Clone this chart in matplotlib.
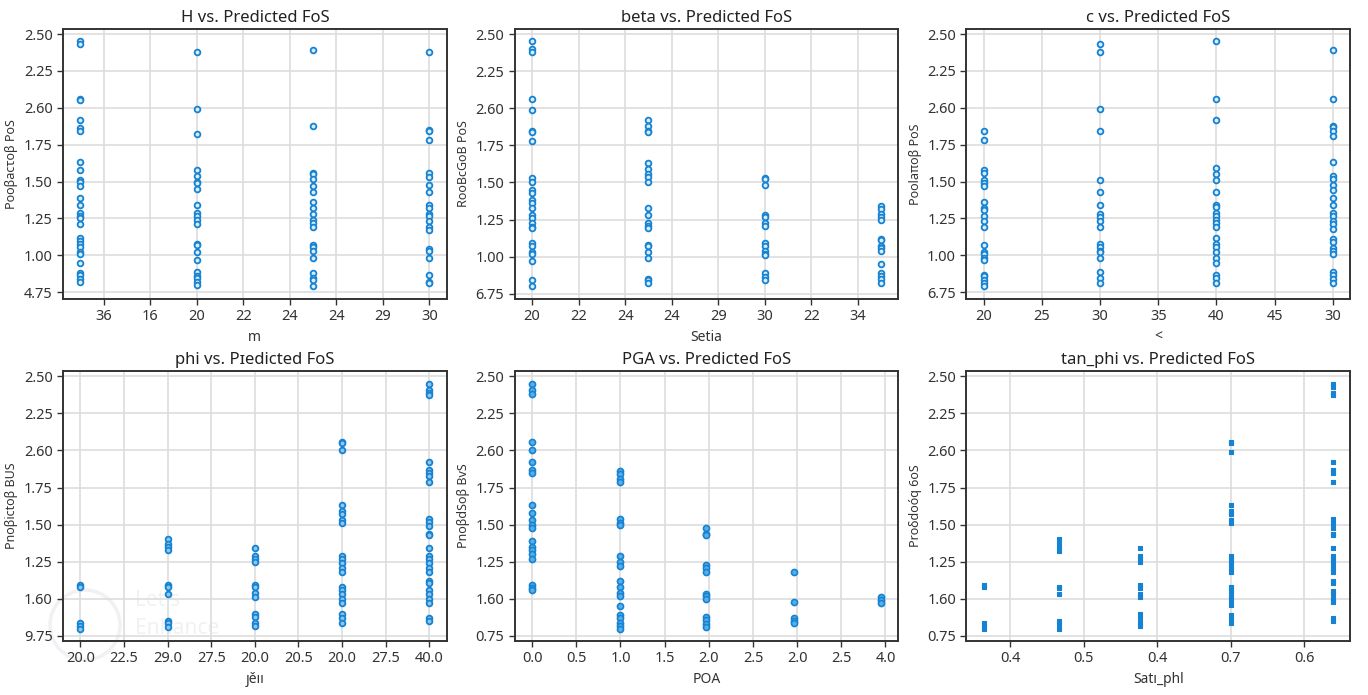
import matplotlib
matplotlib.use("Agg")
import matplotlib.pyplot as plt
from matplotlib.patches import Ellipse
from matplotlib.ticker import FixedLocator

plt.rcParams['font.family'] = ['Noto Sans', 'DejaVu Sans']

# ---------------- data ----------------
titles = ["H vs. Predicted FoS", "beta vs. Predicted FoS", "c vs. Predicted FoS",
          "phi vs. Pɪedicted FoS", "PGA vs. Predicted FoS", "tan_phi vs. Predicted FoS"]
xlabels = ["m", "Setia", "<", "ȷěıı", "POA", "Satı_phl"]
ylabels = ["Pooβacτoβ PoS", "RooBcGoB PoS", "Poolaπoβ PoS",
           "Pnoβictoβ BUS", "PnoβdSoβ BvS", "Proδdoóq 6oS"]

# x tick positions (underlying scale) and the labels shown in the picture
xtick_pos = [
    [16, 18, 20, 22, 24, 26, 28, 30],
    [20, 22, 24, 26, 28, 30, 32, 34],
    [20, 25, 30, 35, 40, 45, 50],
    [20.0, 22.5, 25.0, 27.5, 30.0, 32.5, 35.0, 37.5, 40.0],
    [0.0, 0.5, 1.0, 1.5, 2.0, 2.5, 3.0, 3.5, 4.0],
    [0.4, 0.5, 0.6, 0.7, 0.8],
]
xtick_lab = [
    ["36", "16", "20", "22", "24", "24", "29", "30"],
    ["20", "22", "24", "24", "29", "30", "22", "34"],
    ["20", "25", "30", "35", "40", "45", "30"],
    ["20.0", "22.5", "29.0", "27.5", "20.0", "20.5", "20.0", "27.5", "40.0"],
    ["0.0", "0.5", "1.0", "1.5", "2.0", "2.5", "2.0", "2.5", "4.0"],
    ["0.4", "0.5", "0.4", "0.7", "0.6"],
]
ytick_pos = [0.75, 1.00, 1.25, 1.50, 1.75, 2.00, 2.25, 2.50]
ytick_lab = [
    ["4.75", "1.00", "1.25", "1.50", "1.75", "2.60", "2.25", "2.50"],
    ["6.75", "1.00", "1.25", "1.50", "1.75", "2.60", "2.25", "2.50"],
    ["6.75", "1.00", "1.25", "1.50", "1.75", "2.60", "2.25", "2.50"],
    ["9.75", "1.60", "1.25", "1.50", "1.75", "2.60", "2.25", "2.50"],
    ["0.75", "1.60", "1.25", "1.50", "1.75", "2.60", "2.25", "2.50"],
    ["0.75", "1.60", "1.25", "1.50", "1.75", "2.60", "2.25", "2.50"],
]

# feature levels per panel
H_levels = [15, 20, 25, 30]
beta_levels = [20, 25, 30, 35]
c_levels = [20, 30, 40, 50]
phi_levels = [20, 25, 30, 35, 40]
pga_levels = [0.0, 1.0, 1.97, 2.96, 3.95]
tanphi_levels = [0.364, 0.466, 0.577, 0.700, 0.839]

# predicted FoS values for each level
H_fos = [
    [2.45, 2.43, 2.06, 2.05, 1.92, 1.86, 1.84, 1.63, 1.58, 1.51, 1.50, 1.47, 1.39, 1.34,
     1.29, 1.27, 1.25, 1.21, 1.12, 1.10, 1.08, 1.06, 1.02, 1.01, 0.95, 0.88, 0.87, 0.84, 0.82],
    [2.38, 1.99, 1.82, 1.58, 1.54, 1.50, 1.49, 1.45, 1.34, 1.29, 1.27, 1.24, 1.21, 1.08,
     1.07, 1.02, 0.97, 0.89, 0.86, 0.85, 0.82, 0.80],
    [2.39, 1.88, 1.56, 1.55, 1.52, 1.47, 1.43, 1.36, 1.32, 1.28, 1.24, 1.22, 1.19, 1.07,
     1.06, 1.03, 0.98, 0.88, 0.85, 0.83, 0.79],
    [2.38, 1.85, 1.84, 1.78, 1.56, 1.53, 1.48, 1.43, 1.34, 1.32, 1.28, 1.27, 1.23, 1.19,
     1.17, 1.04, 1.03, 0.98, 0.87, 0.82, 0.81],
]
beta_fos = [
    [2.45, 2.40, 2.38, 2.06, 1.99, 1.85, 1.84, 1.78, 1.53, 1.50, 1.45, 1.43, 1.38, 1.36,
     1.33, 1.28, 1.26, 1.23, 1.20, 1.19, 1.09, 1.07, 1.03, 1.02, 0.97, 0.84, 0.80],
    [1.92, 1.88, 1.85, 1.84, 1.63, 1.59, 1.56, 1.54, 1.50, 1.33, 1.28, 1.23, 1.21, 1.19,
     1.08, 1.07, 1.03, 0.99, 0.85, 0.84, 0.82],
    [1.53, 1.52, 1.48, 1.28, 1.27, 1.23, 1.21, 1.09, 1.07, 1.04, 1.02, 1.01, 0.89, 0.86, 0.84],
    [1.34, 1.32, 1.29, 1.27, 1.25, 1.12, 1.11, 1.07, 1.06, 1.04, 0.95, 0.89, 0.87, 0.85, 0.82],
]
c_fos = [
    [1.84, 1.78, 1.58, 1.56, 1.51, 1.49, 1.47, 1.36, 1.32, 1.31, 1.27, 1.23, 1.19, 1.07,
     1.02, 1.01, 0.98, 0.97, 0.87, 0.86, 0.83, 0.81, 0.79],
    [2.43, 2.38, 1.99, 1.84, 1.51, 1.43, 1.34, 1.28, 1.26, 1.23, 1.19, 1.08, 1.06, 1.03,
     1.02, 0.98, 0.89, 0.85, 0.81],
    [2.45, 2.06, 1.92, 1.59, 1.55, 1.51, 1.43, 1.34, 1.33, 1.29, 1.27, 1.24, 1.22, 1.19,
     1.12, 1.08, 1.06, 1.02, 0.98, 0.95, 0.87, 0.85, 0.81],
    [2.39, 2.06, 1.88, 1.87, 1.84, 1.81, 1.63, 1.54, 1.52, 1.48, 1.44, 1.39, 1.34, 1.29,
     1.27, 1.23, 1.21, 1.18, 1.11, 1.09, 1.05, 1.03, 1.01, 0.89, 0.87, 0.84, 0.81],
]
phi_fos = [
    [1.09, 1.08, 0.84, 0.82, 0.80],
    [1.40, 1.37, 1.35, 1.33, 1.09, 1.08, 1.03, 0.85, 0.84, 0.81],
    [1.34, 1.29, 1.27, 1.25, 1.09, 1.08, 1.04, 1.01, 0.90, 0.88, 0.84, 0.82],
    [2.06, 2.05, 2.00, 1.63, 1.59, 1.57, 1.53, 1.51, 1.29, 1.27, 1.24, 1.21, 1.18, 1.08,
     1.06, 1.03, 1.00, 0.97, 0.90, 0.87, 0.84],
    [2.45, 2.41, 2.39, 2.37, 1.92, 1.87, 1.85, 1.83, 1.79, 1.54, 1.52, 1.49, 1.44, 1.43,
     1.34, 1.29, 1.27, 1.24, 1.21, 1.18, 1.12, 1.11, 1.06, 1.03, 1.00, 0.97, 0.87, 0.85],
]
pga_fos = [
    [2.45, 2.41, 2.38, 2.06, 2.00, 1.92, 1.87, 1.85, 1.63, 1.58, 1.53, 1.50, 1.48, 1.39,
     1.35, 1.33, 1.30, 1.27, 1.09, 1.07, 1.06],
    [1.86, 1.84, 1.81, 1.79, 1.54, 1.51, 1.50, 1.29, 1.25, 1.22, 1.12, 1.08, 1.04, 1.02,
     0.95, 0.89, 0.87, 0.84, 0.82, 0.80],
    [1.48, 1.44, 1.43, 1.23, 1.21, 1.18, 1.03, 1.02, 1.00, 0.88, 0.86, 0.83, 0.81],
    [1.18, 0.98, 0.87, 0.85, 0.84],
    [1.01, 0.99, 0.97],
]
tanphi_fos = [
    [1.09, 1.08, 0.84, 0.82, 0.80],
    [1.40, 1.37, 1.34, 1.32, 1.08, 1.07, 1.03, 0.85, 0.83, 0.80],
    [1.34, 1.29, 1.27, 1.25, 1.09, 1.07, 1.03, 1.01, 0.90, 0.87, 0.84, 0.82],
    [2.06, 2.05, 1.99, 1.63, 1.59, 1.57, 1.53, 1.51, 1.29, 1.27, 1.24, 1.21, 1.18, 1.08,
     1.05, 1.02, 0.99, 0.96, 0.89, 0.87, 0.84],
    [2.45, 2.43, 2.39, 2.37, 1.92, 1.87, 1.85, 1.79, 1.54, 1.51, 1.48, 1.44, 1.43, 1.34,
     1.29, 1.27, 1.24, 1.21, 1.18, 1.12, 1.11, 1.05, 1.03, 1.00, 0.98, 0.87, 0.85],
]

levels = [H_levels, beta_levels, c_levels, phi_levels, pga_levels, tanphi_levels]
fos = [H_fos, beta_fos, c_fos, phi_fos, pga_fos, tanphi_fos]

# ---------------- drawing ----------------
blue = '#1582d2'
fig, axes = plt.subplots(2, 3, figsize=(13.68, 6.95), dpi=100)
fig.patch.set_facecolor('white')
fig.subplots_adjust(left=0.046, right=0.987, top=0.958, bottom=0.078,
                    hspace=0.27, wspace=0.177)

marker_styles = [
    dict(marker='o', s=17, facecolors='#d9ecfa', edgecolors=blue, linewidths=1.3),
    dict(marker='o', s=17, facecolors='#d9ecfa', edgecolors=blue, linewidths=1.3),
    dict(marker='o', s=17, facecolors='#d9ecfa', edgecolors=blue, linewidths=1.3),
    dict(marker='o', s=17, facecolors='#8ec6ef', edgecolors=blue, linewidths=1.3),
    dict(marker='o', s=19, facecolors='#5aaee8', edgecolors=blue, linewidths=1.2),
    dict(marker='s', s=11, facecolors=blue, edgecolors=blue, linewidths=0.8),
]

for i, ax in enumerate(axes.flat):
    ax.set_facecolor('none')
    xs, ys = [], []
    for lv, vals in zip(levels[i], fos[i]):
        xs.extend([lv] * len(vals))
        ys.extend(vals)
    ax.scatter(xs, ys, zorder=3, **marker_styles[i])
    ax.set_title(titles[i], fontsize=12, color='#222222', pad=5)
    ax.set_xlabel(xlabels[i], fontsize=10, color='#333333', labelpad=4)
    ax.set_ylabel(ylabels[i], fontsize=9, color='#333333', labelpad=4)
    ax.xaxis.set_major_locator(FixedLocator(xtick_pos[i]))
    ax.set_xticklabels(xtick_lab[i])
    ax.yaxis.set_major_locator(FixedLocator(ytick_pos))
    ax.set_yticklabels(ytick_lab[i])
    ax.tick_params(labelsize=10.5, colors='#333333', length=4, width=1)
    ax.grid(True, color='#dddddd', linewidth=1.2, zorder=0)
    ax.set_axisbelow(True)
    for sp in ax.spines.values():
        sp.set_color('#333333')
        sp.set_linewidth(1.4)

# faint watermark, drawn beneath the (transparent) axes
fig.patches.append(Ellipse((85 / 1368, 1 - 625 / 695), 70 / 1368, 70 / 695,
                           transform=fig.transFigure, fill=False,
                           edgecolor='#f0f1f4', linewidth=2.5, zorder=-1))
fig.text(135 / 1368, 1 - 600 / 695, "Let's", fontsize=15, color='#eff1f4',
         fontweight='bold', va='center', zorder=-1)
fig.text(135 / 1368, 1 - 628 / 695, "Enhance", fontsize=15, color='#eff1f4',
         fontweight='bold', va='center', zorder=-1)

fig.savefig("out.png", dpi=100, facecolor='white')
